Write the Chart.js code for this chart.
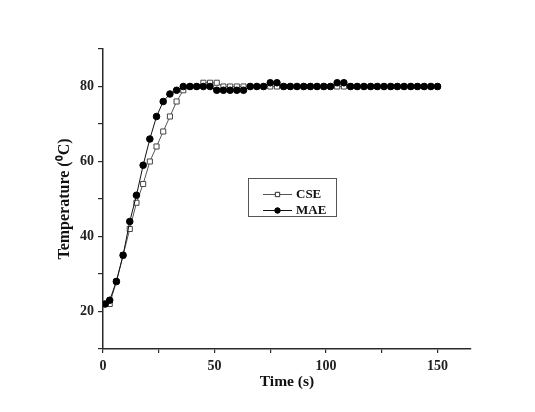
<!DOCTYPE html>
<html>
<head>
<meta charset="utf-8">
<script src="https://cdn.jsdelivr.net/npm/chart.js@4/dist/chart.umd.min.js"></script>
<style>
  html, body { margin: 0; padding: 0; background: #fff; }
  #wrap { width: 535px; height: 412px; }
</style>
</head>
<body>
<div id="wrap"><canvas id="tempChart" width="535" height="412"></canvas></div>
<script>
// time (s) of each sample
const timeSec = [1, 3, 6, 9, 12, 15, 18, 21, 24, 27, 30, 33, 36, 39, 42, 45, 48, 51, 54, 57,
  60, 63, 66, 69, 72, 75, 78, 81, 84, 87, 90, 93, 96, 99, 102, 105, 108, 111, 114, 117,
  120, 123, 126, 129, 132, 135, 138, 141, 144, 147, 150];

// temperature readings (deg C)
const cseTemp = [22, 22, 28, 35, 42, 49, 54, 60, 64, 68, 72, 76, 79, 80, 80, 81, 81, 81, 80, 80,
  80, 80, 80, 80, 80, 80, 80, 80, 80, 80, 80, 80, 80, 80, 80, 80, 80, 80, 80, 80,
  80, 80, 80, 80, 80, 80, 80, 80, 80, 80, 80];
const maeTemp = [22, 23, 28, 35, 44, 51, 59, 66, 72, 76, 78, 79, 80, 80, 80, 80, 80, 79, 79, 79,
  79, 79, 80, 80, 80, 81, 81, 80, 80, 80, 80, 80, 80, 80, 80, 81, 81, 80, 80, 80,
  80, 80, 80, 80, 80, 80, 80, 80, 80, 80, 80];

const xLabelTicks = [0, 50, 100, 150];
const yLabelTicks = [20, 40, 60, 80];

const serif = "'Liberation Serif', 'Times New Roman', serif";
const ink = '#2a2a2a';

function toPoints(values) {
    return timeSec.map((t, i) => ({ x: t, y: values[i] }));
}

// legend box drawn inside the plot, like the original figure
const boxLegend = {
    id: 'boxLegend',
    afterDraw(chart) {
        const ctx = chart.ctx;
        ctx.save();
        ctx.strokeStyle = '#555';
        ctx.lineWidth = 1;
        ctx.strokeRect(248.5, 178.5, 88, 38);

        const rows = [
            { label: 'CSE', y: 194, ds: chart.data.datasets[1] },
            { label: 'MAE', y: 210, ds: chart.data.datasets[0] }
        ];
        rows.forEach(r => {
            ctx.strokeStyle = r.ds.borderColor;
            ctx.lineWidth = 1;
            ctx.beginPath();
            ctx.moveTo(263, r.y + 0.5);
            ctx.lineTo(292, r.y + 0.5);
            ctx.stroke();
            Chart.helpers.drawPoint(ctx, {
                pointStyle: r.ds.pointStyle,
                radius: r.ds.pointStyle === 'rect' ? 3 : 2.6,
                borderWidth: 1
            }, 277.5, r.y + 0.5);
            ctx.fillStyle = r.ds.pointBackgroundColor;
            ctx.strokeStyle = r.ds.pointBorderColor;
            ctx.fill();
            ctx.stroke();

            ctx.fillStyle = '#111';
            ctx.font = 'bold 13px ' + serif;
            ctx.textBaseline = 'middle';
            ctx.fillText(r.label, 296, r.y + 1);
        });
        ctx.restore();
    }
};

new Chart(document.getElementById('tempChart'), {
    type: 'line',
    data: {
        datasets: [
            {
                label: 'MAE',
                data: toPoints(maeTemp),
                borderColor: '#111',
                borderWidth: 1,
                pointStyle: 'circle',
                pointRadius: 3.3,
                pointBackgroundColor: '#000',
                pointBorderColor: '#000',
                pointBorderWidth: 1,
                order: 1
            },
            {
                label: 'CSE',
                data: toPoints(cseTemp),
                borderColor: '#555',
                borderWidth: 1,
                pointStyle: 'rect',
                pointRadius: 3.6,
                pointBackgroundColor: '#fff',
                pointBorderColor: '#444',
                pointBorderWidth: 1,
                order: 2
            }
        ]
    },
    options: {
        responsive: false,
        animation: false,
        layout: { padding: { left: 55, right: 64, top: 49, bottom: 20 } },
        plugins: {
            legend: { display: false },
            tooltip: { enabled: false }
        },
        scales: {
            x: {
                type: 'linear',
                min: 0,
                max: 165,
                border: { color: ink, width: 1.5 },
                grid: { drawOnChartArea: false, tickLength: 4, color: ink, lineWidth: 1.2 },
                ticks: {
                    stepSize: 25,
                    includeBounds: false,
                    autoSkip: false,
                    maxRotation: 0,
                    padding: 5,
                    color: '#222',
                    font: { family: serif, size: 14, weight: 'bold' },
                    callback: v => xLabelTicks.includes(v) ? String(v) : ''
                },
                title: {
                    display: true,
                    text: 'Time (s)',
                    color: '#111',
                    font: { family: serif, size: 15.5, weight: 'bold' },
                    padding: { top: 0, bottom: 1 }
                },
                afterFit: s => { s.height = 43; }
            },
            y: {
                type: 'linear',
                min: 10,
                max: 90,
                border: { color: ink, width: 1.5 },
                grid: { drawOnChartArea: false, tickLength: 5, color: ink, lineWidth: 1.2 },
                ticks: {
                    stepSize: 10,
                    includeBounds: false,
                    autoSkip: false,
                    padding: 4,
                    color: '#222',
                    font: { family: serif, size: 14, weight: 'bold' },
                    callback: v => yLabelTicks.includes(v) ? String(v) : ''
                },
                title: {
                    display: true,
                    text: 'Temperature (⁰C)',
                    color: '#111',
                    font: { family: serif, size: 16, weight: 'bold' },
                    padding: { top: 0, bottom: 0 }
                },
                afterFit: s => { s.width = 48; }
            }
        }
    },
    plugins: [boxLegend]
});
</script>
</body>
</html>
